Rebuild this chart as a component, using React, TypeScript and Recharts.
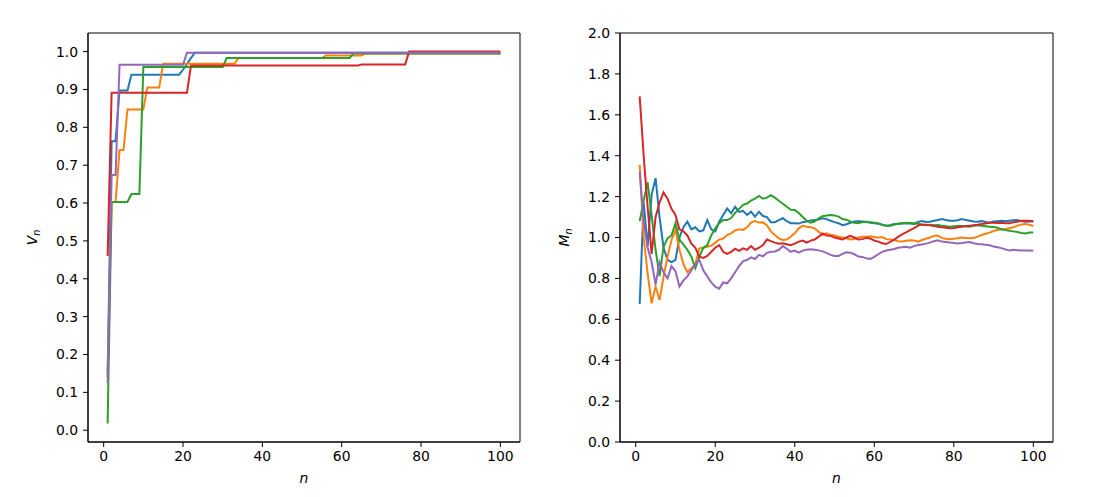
import React from 'react';
import { LineChart, Line, XAxis, YAxis, ReferenceArea } from 'recharts';

document.body.style.margin = '0';

// tab10 colours, same order as the series
const colors = ['#1f77b4', '#ff7f0e', '#2ca02c', '#d62728', '#9467bd'];

const xTicks = [0, 20, 40, 60, 80, 100];
const vTicks = [0, 0.1, 0.2, 0.3, 0.4, 0.5, 0.6, 0.7, 0.8, 0.9, 1.0];
const mTicks = [0, 0.2, 0.4, 0.6, 0.8, 1.0, 1.2, 1.4, 1.6, 1.8, 2.0];

// left panel: V_n, n = 1..100
const vBlue = [
  0.15, 0.763, 0.763, 0.897, 0.897, 0.897, 0.939, 0.939, 0.939, 0.939,
  0.939, 0.939, 0.939, 0.939, 0.939, 0.939, 0.939, 0.939, 0.939, 0.952,
  0.967, 0.983, 0.997, 0.997, 0.997, 0.997, 0.997, 0.997, 0.997, 0.997,
  0.997, 0.997, 0.997, 0.997, 0.997, 0.997, 0.997, 0.997, 0.997, 0.997,
  0.997, 0.997, 0.997, 0.997, 0.997, 0.997, 0.997, 0.997, 0.997, 0.997,
  0.997, 0.997, 0.997, 0.997, 0.997, 0.997, 0.997, 0.997, 0.997, 0.997,
  0.997, 0.997, 0.997, 0.997, 0.997, 0.997, 0.997, 0.997, 0.997, 0.997,
  0.997, 0.997, 0.997, 0.997, 0.997, 0.997, 0.997, 0.997, 0.997, 0.997,
  0.997, 0.997, 0.997, 0.997, 0.997, 0.997, 0.997, 0.997, 0.997, 0.997,
  0.997, 0.997, 0.997, 0.997, 0.997, 0.997, 0.997, 0.997, 0.997, 0.997,
];
const vOrange = [
  0.14, 0.603, 0.603, 0.74, 0.74, 0.847, 0.847, 0.847, 0.847, 0.847,
  0.905, 0.905, 0.905, 0.905, 0.968, 0.968, 0.968, 0.968, 0.968, 0.968,
  0.968, 0.968, 0.968, 0.968, 0.968, 0.968, 0.968, 0.968, 0.968, 0.968,
  0.968, 0.968, 0.968, 0.983, 0.983, 0.983, 0.983, 0.983, 0.983, 0.983,
  0.983, 0.983, 0.983, 0.983, 0.983, 0.983, 0.983, 0.983, 0.983, 0.983,
  0.983, 0.983, 0.983, 0.983, 0.983, 0.99, 0.99, 0.99, 0.99, 0.99,
  0.99, 0.99, 0.99, 0.99, 0.99, 0.995, 0.995, 0.995, 0.995, 0.995,
  0.995, 0.995, 0.995, 0.995, 0.995, 0.995, 0.995, 0.995, 0.995, 0.995,
  0.995, 0.995, 0.995, 0.995, 0.995, 0.995, 0.995, 0.995, 0.995, 0.995,
  0.995, 0.995, 0.995, 0.995, 0.995, 0.995, 0.995, 0.995, 0.995, 0.995,
];
const vGreen = [
  0.018, 0.603, 0.603, 0.603, 0.603, 0.603, 0.624, 0.624, 0.624, 0.959,
  0.959, 0.959, 0.959, 0.959, 0.959, 0.959, 0.959, 0.959, 0.959, 0.959,
  0.959, 0.959, 0.959, 0.959, 0.959, 0.959, 0.959, 0.959, 0.959, 0.959,
  0.983, 0.983, 0.983, 0.983, 0.983, 0.983, 0.983, 0.983, 0.983, 0.983,
  0.983, 0.983, 0.983, 0.983, 0.983, 0.983, 0.983, 0.983, 0.983, 0.983,
  0.983, 0.983, 0.983, 0.983, 0.983, 0.983, 0.983, 0.983, 0.983, 0.983,
  0.983, 0.983, 0.995, 0.995, 0.995, 0.995, 0.995, 0.995, 0.995, 0.995,
  0.995, 0.995, 0.995, 0.995, 0.995, 0.995, 0.995, 0.995, 0.995, 0.995,
  0.995, 0.995, 0.995, 0.995, 0.995, 0.995, 0.995, 0.995, 0.995, 0.995,
  0.995, 0.995, 0.995, 0.995, 0.995, 0.995, 0.995, 0.995, 0.995, 0.995,
];
const vRed = [
  0.46, 0.891, 0.891, 0.891, 0.891, 0.891, 0.891, 0.891, 0.891, 0.891,
  0.891, 0.891, 0.891, 0.891, 0.891, 0.891, 0.891, 0.891, 0.891, 0.891,
  0.891, 0.963, 0.963, 0.963, 0.963, 0.963, 0.963, 0.963, 0.963, 0.963,
  0.963, 0.963, 0.963, 0.963, 0.963, 0.963, 0.963, 0.963, 0.963, 0.963,
  0.963, 0.963, 0.963, 0.963, 0.963, 0.963, 0.963, 0.963, 0.963, 0.963,
  0.963, 0.963, 0.963, 0.963, 0.963, 0.963, 0.963, 0.963, 0.963, 0.963,
  0.963, 0.963, 0.963, 0.963, 0.966, 0.966, 0.966, 0.966, 0.966, 0.966,
  0.966, 0.966, 0.966, 0.966, 0.966, 0.966, 1.0, 1.0, 1.0, 1.0,
  1.0, 1.0, 1.0, 1.0, 1.0, 1.0, 1.0, 1.0, 1.0, 1.0,
  1.0, 1.0, 1.0, 1.0, 1.0, 1.0, 1.0, 1.0, 1.0, 1.0,
];
const vPurple = [
  0.125, 0.674, 0.674, 0.965, 0.965, 0.965, 0.965, 0.965, 0.965, 0.965,
  0.965, 0.965, 0.965, 0.965, 0.965, 0.965, 0.965, 0.965, 0.965, 0.965,
  0.997, 0.997, 0.997, 0.997, 0.997, 0.997, 0.997, 0.997, 0.997, 0.997,
  0.997, 0.997, 0.997, 0.997, 0.997, 0.997, 0.997, 0.997, 0.997, 0.997,
  0.997, 0.997, 0.997, 0.997, 0.997, 0.997, 0.997, 0.997, 0.997, 0.997,
  0.997, 0.997, 0.997, 0.997, 0.997, 0.997, 0.997, 0.997, 0.997, 0.997,
  0.997, 0.997, 0.997, 0.997, 0.997, 0.997, 0.997, 0.997, 0.997, 0.997,
  0.997, 0.997, 0.997, 0.997, 0.997, 0.997, 0.997, 0.997, 0.997, 0.997,
  0.997, 0.997, 0.997, 0.997, 0.997, 0.997, 0.997, 0.997, 0.997, 0.997,
  0.997, 0.997, 0.997, 0.997, 0.997, 0.997, 0.997, 0.997, 0.997, 0.997,
];

// right panel: M_n, n = 1..100
const mBlue = [
  0.675, 1.17, 0.955, 1.21, 1.29, 1.10, 0.95, 0.89, 0.88, 0.89,
  1.00, 1.05, 1.077, 1.04, 1.05, 1.03, 1.035, 1.085, 1.04, 1.03,
  1.077, 1.11, 1.142, 1.118, 1.15, 1.125, 1.13, 1.11, 1.126, 1.102,
  1.126, 1.105, 1.10, 1.075, 1.075, 1.085, 1.094, 1.08, 1.07, 1.07,
  1.068, 1.075, 1.078, 1.083, 1.085, 1.088, 1.094, 1.09, 1.082, 1.075,
  1.07, 1.06, 1.065, 1.072, 1.078, 1.08, 1.078, 1.076, 1.072, 1.07,
  1.068, 1.062, 1.058, 1.06, 1.066, 1.066, 1.068, 1.07, 1.068, 1.066,
  1.076, 1.08, 1.076, 1.077, 1.082, 1.086, 1.09, 1.086, 1.082, 1.082,
  1.084, 1.09, 1.086, 1.082, 1.078, 1.077, 1.08, 1.076, 1.072, 1.078,
  1.08, 1.082, 1.08, 1.082, 1.084, 1.085, 1.08, 1.077, 1.078, 1.078,
];
const mOrange = [
  1.355, 1.00, 0.825, 0.678, 0.76, 0.694, 0.808, 0.906, 0.988, 1.037,
  0.94, 0.87, 0.83, 0.85, 0.87, 0.947, 0.95, 0.955, 0.96, 0.975,
  0.99, 0.995, 1.012, 1.02, 1.035, 1.04, 1.037, 1.05, 1.073, 1.08,
  1.073, 1.074, 1.06, 1.03, 1.012, 0.996, 0.988, 0.99, 1.005, 1.02,
  1.045, 1.058, 1.052, 1.05, 1.045, 1.028, 1.012, 1.02, 1.014, 1.01,
  1.004, 1.0, 0.996, 0.99, 0.993, 1.0, 1.004, 1.004, 1.006, 1.002,
  1.0, 1.002, 0.992, 0.99, 0.988, 0.982, 0.98, 0.984, 0.986, 0.985,
  0.98, 0.988, 0.994, 1.0, 1.008, 1.01, 0.998, 0.994, 0.991, 0.994,
  0.996, 1.0, 0.998, 0.996, 0.997, 1.004, 1.012, 1.018, 1.024, 1.032,
  1.037, 1.04, 1.042, 1.045, 1.05, 1.058, 1.064, 1.066, 1.062, 1.056,
];
const mGreen = [
  1.08, 1.18, 1.27, 1.11, 0.94, 0.81, 0.955, 0.996, 1.01, 1.07,
  0.99, 0.965, 0.94, 0.906, 0.85, 0.906, 0.95, 0.963, 1.01, 1.045,
  1.07, 1.085, 1.085, 1.095, 1.12, 1.14, 1.16, 1.166, 1.18, 1.19,
  1.203, 1.19, 1.195, 1.207, 1.195, 1.18, 1.165, 1.15, 1.135, 1.134,
  1.12, 1.1, 1.082, 1.072, 1.078, 1.094, 1.104, 1.108, 1.11, 1.108,
  1.102, 1.09, 1.087, 1.078, 1.072, 1.07, 1.076, 1.077, 1.075, 1.072,
  1.068, 1.062, 1.058, 1.058, 1.062, 1.068, 1.07, 1.072, 1.071, 1.07,
  1.067, 1.062, 1.06, 1.062, 1.06, 1.061, 1.057, 1.055, 1.053, 1.055,
  1.056, 1.056, 1.054, 1.053, 1.058, 1.06, 1.057, 1.055, 1.053, 1.051,
  1.048, 1.04, 1.036, 1.033, 1.03, 1.027, 1.022, 1.02, 1.024, 1.025,
];
const mRed = [
  1.69, 1.40, 1.15, 0.92, 1.10, 1.17, 1.22, 1.19, 1.14, 1.11,
  1.04, 1.03, 1.01, 0.97, 0.95, 0.906, 0.90, 0.91, 0.93, 0.95,
  0.963, 0.93, 0.92, 0.93, 0.945, 0.935, 0.947, 0.94, 0.958, 0.94,
  0.95, 0.963, 0.99, 0.982, 0.975, 0.97, 0.972, 0.967, 0.962, 0.97,
  0.98, 0.985, 0.975, 0.985, 0.99, 1.004, 1.02, 1.01, 1.008, 1.0,
  0.995, 0.99, 1.0, 1.008, 1.0, 0.99, 0.992, 0.998, 0.995, 0.985,
  0.98, 0.972, 0.968, 0.978, 0.99, 1.003, 1.015, 1.025, 1.036, 1.046,
  1.058, 1.064, 1.062, 1.06, 1.056, 1.053, 1.05, 1.048, 1.045, 1.046,
  1.05, 1.053, 1.056, 1.057, 1.06, 1.062, 1.066, 1.068, 1.072, 1.072,
  1.071, 1.072, 1.07, 1.07, 1.075, 1.077, 1.082, 1.082, 1.082, 1.08,
];
const mPurple = [
  1.32, 1.08, 0.95, 0.88, 0.77, 0.88, 0.83, 0.80, 0.86, 0.835,
  0.76, 0.79, 0.81, 0.84, 0.87, 0.89, 0.84, 0.81, 0.78, 0.76,
  0.75, 0.78, 0.776, 0.80, 0.83, 0.86, 0.885, 0.89, 0.903, 0.895,
  0.915, 0.908, 0.925, 0.93, 0.932, 0.94, 0.958, 0.945, 0.93, 0.936,
  0.926, 0.936, 0.94, 0.942, 0.94, 0.937, 0.932, 0.925, 0.915, 0.91,
  0.91, 0.92, 0.928, 0.926, 0.918, 0.907, 0.905, 0.898, 0.895, 0.905,
  0.918, 0.93, 0.936, 0.94, 0.944, 0.95, 0.952, 0.955, 0.95, 0.958,
  0.963, 0.966, 0.97, 0.975, 0.982, 0.986, 0.98, 0.978, 0.975, 0.973,
  0.971, 0.973, 0.976, 0.978, 0.972, 0.968, 0.967, 0.965, 0.962, 0.956,
  0.952, 0.948, 0.942, 0.936, 0.94, 0.938, 0.936, 0.936, 0.936, 0.935,
];

const vSeries = [vBlue, vOrange, vGreen, vRed, vPurple];
const mSeries = [mBlue, mOrange, mGreen, mRed, mPurple];
const seriesKeys = ['s0', 's1', 's2', 's3', 's4'];

const toRows = (series: number[][]) =>
  series[0].map((_, i) => {
    const row: any = { n: i + 1 };
    series.forEach((s, k) => (row[seriesKeys[k]] = s[i]));
    return row;
  });

const vRows = toRows(vSeries);
const mRows = toRows(mSeries);

const FONT = 'DejaVu Sans';
const FS = 13.9;

function YTitle({ viewBox, sym }: any) {
  const { x, y, width, height } = viewBox;
  const bx = x + width - 51;
  const cy = y + height / 2;
  return (
    <text
      transform={`rotate(-90 ${bx} ${cy})`}
      x={bx}
      y={cy}
      textAnchor="middle"
      fontSize={FS}
      fontFamily={FONT}
      fill="#000"
    >
      <tspan fontStyle="italic">{sym}</tspan>
      <tspan fontStyle="italic" fontSize={9.7} dy={3}>n</tspan>
    </text>
  );
}

function XTitle({ viewBox }: any) {
  const { x, y, width } = viewBox;
  return (
    <text x={x + width / 2} y={y + 41} textAnchor="middle" fontSize={FS} fontFamily={FONT} fontStyle="italic" fill="#000">
      n
    </text>
  );
}

interface PanelProps {
  rows: any[];
  left: number;
  width: number;
  yWidth: number;
  yDomain: [number, number];
  yTicks: number[];
  sym: string;
}

function Panel({ rows, left, width, yWidth, yDomain, yTicks, sym }: PanelProps) {
  const xDomain: [number, number] = [-3.95, 104.95];
  const tick = { fontSize: FS, fill: '#000', fontFamily: FONT };
  const spine = { stroke: '#000', strokeWidth: 1 };
  return (
    <div style={{ position: 'absolute', left, top: 0 }}>
      <LineChart width={width} height={497} data={rows} margin={{ top: 33, right: 20, left: 0, bottom: 0 }}>
        <XAxis
          dataKey="n"
          type="number"
          domain={xDomain}
          ticks={xTicks}
          allowDataOverflow
          height={55}
          tick={tick}
          tickSize={5}
          tickMargin={4}
          axisLine={spine}
          tickLine={spine}
          label={<XTitle />}
        />
        <YAxis
          type="number"
          domain={yDomain}
          ticks={yTicks}
          allowDataOverflow
          width={yWidth}
          tick={tick}
          tickSize={5}
          tickMargin={5}
          tickFormatter={(v: number) => v.toFixed(1)}
          axisLine={spine}
          tickLine={spine}
          label={<YTitle sym={sym} />}
        />
        {/* axes frame (top and right spines) */}
        <ReferenceArea
          x1={xDomain[0]}
          x2={xDomain[1]}
          y1={yDomain[0]}
          y2={yDomain[1]}
          fill="none"
          fillOpacity={0}
          stroke="#000"
          strokeWidth={1}
          ifOverflow="visible"
        />
        {seriesKeys.map((k, i) => (
          <Line
            key={k}
            dataKey={k}
            type="linear"
            stroke={colors[i]}
            strokeWidth={2}
            dot={false}
            activeDot={false}
            isAnimationActive={false}
          />
        ))}
      </LineChart>
    </div>
  );
}

export default function App() {
  return (
    <div style={{ position: 'relative', width: 1097, height: 497, background: '#fff', fontFamily: FONT }}>
      <Panel rows={vRows} left={0} width={540} yWidth={88} yDomain={[-0.0311, 1.0491]} yTicks={vTicks} sym="V" />
      <Panel rows={mRows} left={540} width={533} yWidth={80} yDomain={[0, 2]} yTicks={mTicks} sym="M" />
    </div>
  );
}
